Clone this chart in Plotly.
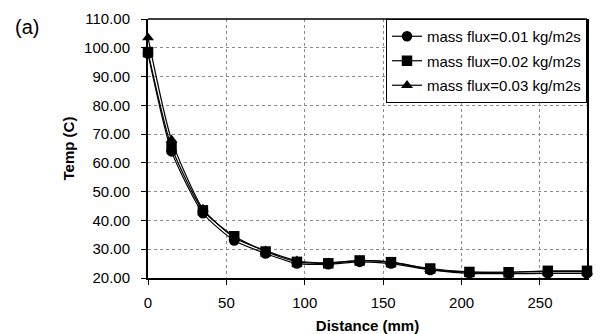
import plotly.graph_objects as go

distance = [0, 15, 35, 55, 75, 95, 115, 135, 155, 180, 205, 230, 255, 280]
temp_001 = [98.0, 64.0, 42.5, 33.0, 28.5, 25.0, 24.8, 25.6, 25.0, 22.8, 21.6, 21.5, 21.6, 21.6]
temp_002 = [98.5, 65.5, 43.5, 34.5, 29.2, 25.6, 25.1, 26.1, 25.5, 23.3, 22.1, 22.0, 22.5, 22.5]
temp_003 = [103.5, 68.0, 44.0, 34.0, 29.5, 26.0, 25.3, 26.0, 25.5, 23.0, 22.0, 22.0, 22.2, 22.2]
names = ["mass flux=0.01 kg/m2s", "mass flux=0.02 kg/m2s", "mass flux=0.03 kg/m2s"]
series = [temp_001, temp_002, temp_003]
symbols = ["circle", "square", "triangle-up"]
xticks = [0, 50, 100, 150, 200, 250]

FONT = "Liberation Sans, Arial, sans-serif"

fig = go.Figure()
for i, (nm, ys, sym) in enumerate(zip(names, series, symbols)):
    fig.add_trace(go.Scatter(
        x=distance, y=ys, name=nm, mode="lines+markers",
        line=dict(color="black", width=1.2, shape="spline", smoothing=0.6),
        marker=dict(symbol=sym, size=10.5, color="black"),
        cliponaxis=False, legendgroup=f"g{i}",
    ))

fig.update_layout(
    width=603, height=334,
    margin=dict(l=140, r=24, t=11, b=64),
    paper_bgcolor="white", plot_bgcolor="white",
    font=dict(family=FONT, size=15, color="black"),
    showlegend=True,
    legend=dict(
        x=1.0, y=1.0, xanchor="right", yanchor="top",
        bgcolor="white", bordercolor="black", borderwidth=1,
        font=dict(size=15), tracegroupgap=2, traceorder="grouped",
        itemwidth=30,
    ),
    xaxis=dict(
        range=[0, 280], tickvals=xticks, ticktext=[str(v) for v in xticks],
        showline=True, linecolor="black", linewidth=2, automargin=False,
        ticks="outside", ticklen=5, tickcolor="black", ticklabelstandoff=5,
        showgrid=True, gridcolor="#8a8a8a", griddash="dot", gridwidth=1,
        zeroline=False,
        title=dict(text="<b>Distance (mm)</b>", font=dict(size=15), standoff=10),
    ),
    yaxis=dict(
        range=[20, 110], dtick=10, tickformat=".2f",
        showline=True, linecolor="black", linewidth=2, mirror=True, automargin=False,
        ticks="outside", ticklen=5, tickcolor="black", ticklabelstandoff=8,
        showgrid=True, gridcolor="#8a8a8a", griddash="dot", gridwidth=1,
        zeroline=False,
        title=dict(text="<b>Temp (C)</b>", font=dict(size=15), standoff=6),
    ),
    shapes=[dict(type="line", xref="paper", yref="paper", x0=0, x1=1, y0=1, y1=1,
                 line=dict(color="black", width=1.5), layer="above")],
    annotations=[dict(text="(a)", xref="paper", yref="paper", x=-0.3075, y=0.969,
                      xanchor="left", yanchor="middle", showarrow=False,
                      font=dict(size=20))],
)

fig.write_html("out.html")
